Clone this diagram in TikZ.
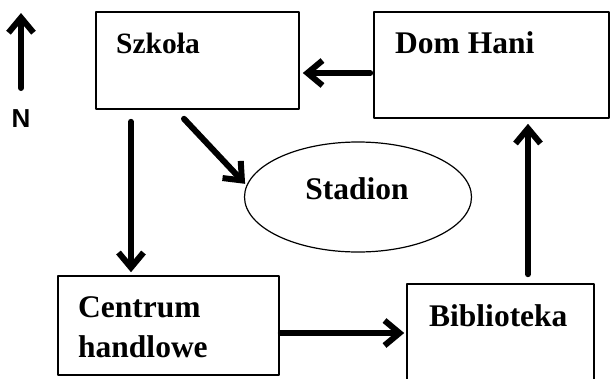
\documentclass[tikz,border=0pt]{standalone}
\usepackage{fontspec}
\setmainfont{Liberation Serif}
\newfontfamily\nfont{Liberation Sans}
\usetikzlibrary{arrows.meta,shapes.geometric}
\begin{document}
\begin{tikzpicture}[x=1pt, y=-1pt, line join=round, line cap=round,
	box/.style={draw, line width=1.6pt, inner sep=0pt},
	arr/.style={line width=6pt, -{Straight Barb[length=15pt, width=25pt]}},
	lbl/.style={inner sep=0pt, font=\bfseries\fontsize{31.5}{40}\selectfont}]
	\useasboundingbox (0,0) rectangle (610,378);
	% places
	\node[box, minimum width=203pt, minimum height=97pt] (szkola) at (197.5,60.5) {};
	\node[box, minimum width=235pt, minimum height=106pt] (domhani) at (491.5,65) {};
	\node[box, minimum width=221pt, minimum height=99pt] (centrum) at (168.5,325.5) {};
	\node[box, minimum width=187pt, minimum height=108pt] (biblioteka) at (500.5,338) {};
	\node[draw, ellipse, line width=1.2pt, minimum width=227pt, minimum height=110pt] (stadion) at (358,197) {};
	% names
	\node[lbl, anchor=base west, font=\bfseries\fontsize{29.5}{34}\selectfont] (szkolatxt) at (116,53) {Szkoła};
	\node[lbl, anchor=base west] (domhanitxt) at (395,53) {Dom Hani};
	\node[lbl, anchor=base] (stadiontxt) at (357,199) {Stadion};
	\node[lbl, anchor=base west, align=left] (centrumtxt) at (78,357) {Centrum\\handlowe};
	\node[lbl, anchor=base west] (bibliotekatxt) at (429,326) {Biblioteka};
	% north
	\coordinate (nbase) at (21,88);
	\coordinate (ntip) at (21,13);
	\draw[arr] (nbase) -- (ntip);
	\node[inner sep=0pt, anchor=base, font=\nfont\bfseries\fontsize{26}{30}\selectfont] (n) at (21,127) {N};
	% ways
	\draw[arr, shorten <=3pt, shorten >=3pt] ([yshift=-8pt]domhani.west) -- ([yshift=-8pt]domhani.west -| szkola.east);
	\draw[arr, shorten <=12pt, shorten >=3pt] ([xshift=-66.5pt]szkola.south) -- ([xshift=-66.5pt]szkola.south |- centrum.north);
	\draw[arr, shorten >=2pt] ([xshift=-13.5pt, yshift=-9pt]szkola.south) -- (stadion.174);
	\draw[arr, shorten <=1pt, shorten >=2pt] ([yshift=-7.5pt]centrum.east) -- ([yshift=-7.5pt]centrum.east -| biblioteka.west);
	\draw[arr, shorten <=9pt, shorten >=5pt] ([xshift=36.5pt]domhani.south |- biblioteka.north) -- ([xshift=36.5pt]domhani.south);
\end{tikzpicture}
\end{document}
